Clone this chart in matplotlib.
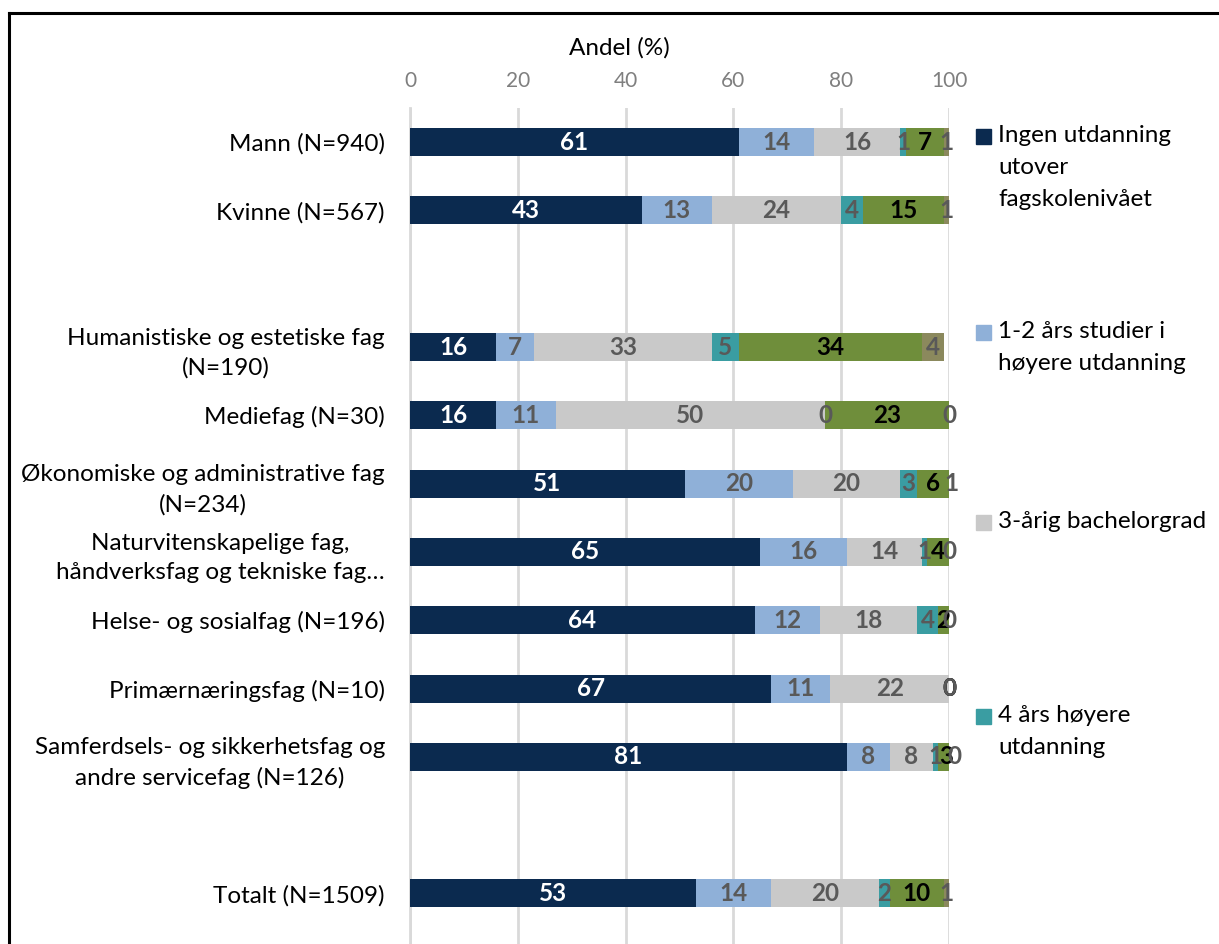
import matplotlib
matplotlib.use("Agg")
import matplotlib.pyplot as plt
from matplotlib.lines import Line2D
from matplotlib.patches import Rectangle

plt.rcParams['font.family'] = ['Lato', 'DejaVu Sans']

# ---- data ----
kategorier = ["Mann (N=940)", "Kvinne (N=567)",
              "Humanistiske og estetiske fag\n(N=190)", "Mediefag (N=30)",
              "Økonomiske og administrative fag\n(N=234)",
              "Naturvitenskapelige fag,\nhåndverksfag og tekniske fag…",
              "Helse- og sosialfag (N=196)", "Primærnæringsfag (N=10)",
              "Samferdsels- og sikkerhetsfag og\nandre servicefag (N=126)",
              "Totalt (N=1509)"]
serier = ["Ingen utdanning\nutover\nfagskolenivået", "1-2 års studier i\nhøyere utdanning",
          "3-årig bachelorgrad", "4 års høyere\nutdanning", "5 års høyere utdanning", "Annet"]
ingen = [61, 43, 16, 16, 51, 65, 64, 67, 81, 53]
ar_1_2 = [14, 13, 7, 11, 20, 16, 12, 11, 8, 14]
bachelor = [16, 24, 33, 50, 20, 14, 18, 22, 8, 20]
ar_4 = [1, 4, 5, 0, 3, 1, 4, 0, 1, 2]
ar_5 = [7, 15, 34, 23, 6, 4, 2, 0, 3, 10]
annet = [1, 1, 4, 0, 1, 0, 0, 0, 0, 1]
verdier = [ingen, ar_1_2, bachelor, ar_4, ar_5, annet]

# ---- stil ----
farger = ["#0b2a4f", "#8fb0d8", "#c9c9c9", "#3a9da2", "#6f8e3b", "#8b895d"]
tekstfarger = ["white", "#595959", "#595959", "#595959", "black", "#595959"]
rad = [0, 1, 3, 4, 5, 6, 7, 8, 9, 11]   # tomme rader mellom gruppene
FS = 17.5

W, H = 1219, 944
fig = plt.figure(figsize=(W / 100, H / 100), dpi=100)
ax = fig.add_axes([410 / W, 0, 539 / W, (H - 108) / H])

venstre = [0] * len(kategorier)
for v, f, tf in zip(verdier, farger, tekstfarger):
    ax.barh(rad, v, left=venstre, height=0.41, color=f, zorder=3)
    for y, l, x in zip(rad, venstre, v):
        ax.text(l + x / 2, y, str(x), ha="center", va="center", color=tf,
                fontsize=FS, fontweight="bold", zorder=4, clip_on=False)
    venstre = [a + x for a, x in zip(venstre, v)]

ax.set_xlim(0, 100)
ax.set_ylim(11.74, -0.5)
ax.set_xticks(range(0, 101, 20))
ax.xaxis.tick_top()
ax.tick_params(axis="x", length=0, pad=12, labelsize=15, labelcolor="#7f7f7f")
ax.set_yticks(rad)
ax.set_yticklabels(kategorier, fontsize=FS, multialignment="center", linespacing=1.5)
ax.tick_params(axis="y", length=0, pad=18)
ax.grid(axis="x", color="#d9d9d9", lw=2, zorder=0)
for s in ["top", "right", "bottom"]:
    ax.spines[s].set_visible(False)
ax.spines["left"].set_color("#d9d9d9")
ax.spines["left"].set_linewidth(2)
ax.text((619 - 410) / 539, 1 + (108 - 48) / (H - 108), "Andel (%)", transform=ax.transAxes,
        ha="center", va="center", fontsize=FS)

# ---- legende (bare de fire første vises) ----
for i, y in enumerate([136, 332, 522, 716]):
    fig.patches.append(Rectangle((976 / W, 1 - (y + 7.5) / H), 15 / W, 15 / H,
                                 transform=fig.transFigure, color=farger[i]))
    fig.text(998 / W, 1 - (y - 11) / H, serier[i], fontsize=FS, va="top", ha="left",
             linespacing=1.65)

# ramme
fig.add_artist(Line2D([9 / W, 1], [1 - 13 / H] * 2, color="black", lw=2.2))
fig.add_artist(Line2D([9 / W] * 2, [0, 1 - 13 / H], color="black", lw=2.2))

fig.savefig("out.png", dpi=100)
